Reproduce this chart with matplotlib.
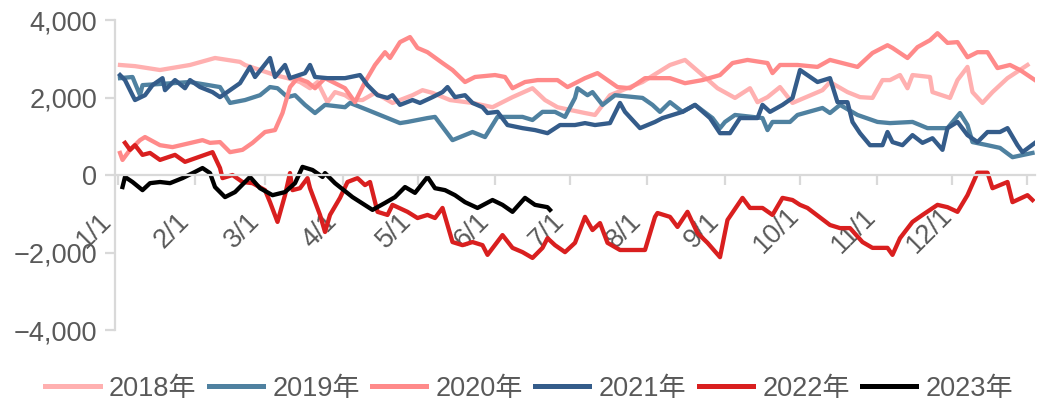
import matplotlib
matplotlib.use("Agg")
import matplotlib.pyplot as plt
import matplotlib.ticker as ticker
from matplotlib.transforms import ScaledTranslation

plt.rcParams["font.family"] = ["Liberation Sans", "Noto Sans CJK SC", "DejaVu Sans"]

# day of year / spread readings for each year
days_2018 = [1, 7, 17, 29, 39, 49, 51, 57, 63, 68, 73, 77, 80, 84, 87, 91, 94, 98, 103,
             110, 118, 122, 126, 133, 142, 150, 158, 166, 171, 176, 181, 187, 191, 197,
             210, 221, 227, 234, 240, 247, 253, 256, 260, 265, 270, 282, 285, 292, 297,
             302, 306, 309, 313, 316, 318, 325, 326, 333, 336, 340, 342, 346, 350, 356,
             364]
spread_2018 = [2840, 2810, 2710, 2840, 3020, 2920, 2840, 2710, 2580, 2500, 2400, 2240,
               2400, 1880, 2140, 2060, 1935, 1935, 2120, 1860, 2060, 2190, 2120, 1935,
               1860, 1750, 2010, 2240, 1935, 1750, 1680, 1600, 1550, 2060, 2400, 2840,
               2970, 2580, 2240, 1990, 2240, 1880, 2010, 2270, 1860, 2190, 2400, 2140,
               2010, 1990, 2450, 2450, 2580, 2240, 2580, 2530, 2140, 1990, 2450, 2790,
               2140, 1860, 2140, 2500, 2840]

days_2019 = [1, 6, 9, 10, 29, 41, 45, 51, 57, 61, 64, 68, 71, 75, 79, 83, 91, 93, 100,
             113, 116, 124, 127, 134, 142, 147, 152, 162, 166, 170, 175, 179, 183, 184,
             188, 190, 194, 199, 210, 214, 217, 221, 226, 231, 238, 241, 243, 247, 258,
             260, 262, 269, 272, 282, 285, 289, 296, 304, 309, 318, 324, 332, 337, 340,
             342, 348, 353, 358, 366]
spread_2019 = [2500, 2530, 2060, 2320, 2400, 2270, 1860, 1935, 2060, 2270, 2240, 2010,
               2060, 1810, 1600, 1810, 1750, 1860, 1680, 1340, 1370, 1470, 1500, 900,
               1110, 980, 1500, 1500, 1420, 1630, 1630, 1500, 1990, 2240, 2060, 2140,
               1810, 2060, 1990, 1810, 1630, 1880, 1630, 1810, 1470, 1210, 1370, 1550,
               1470, 1160, 1370, 1370, 1550, 1730, 1600, 1810, 1550, 1370, 1340, 1370,
               1210, 1210, 1600, 1290, 850, 770, 700, 460, 570]

days_2020 = [1, 2, 5, 9, 11, 17, 22, 34, 37, 41, 45, 50, 54, 59, 63, 66, 69, 72, 76, 79,
             83, 91, 95, 99, 103, 107, 109, 113, 117, 120, 124, 130, 134, 139, 143, 151,
             155, 158, 163, 168, 176, 180, 187, 192, 196, 200, 205, 211, 221, 227, 234,
             241, 246, 252, 260, 262, 265, 272, 280, 285, 296, 302, 308, 310, 316, 320,
             325, 328, 332, 336, 340, 344, 348, 352, 357, 361, 367]
spread_2020 = [570, 390, 650, 900, 980, 770, 720, 900, 830, 850, 590, 650, 830, 1110,
               1160, 1600, 2270, 2500, 2400, 2240, 2500, 2240, 1880, 2400, 2840, 3170,
               3020, 3430, 3560, 3280, 3170, 2890, 2710, 2400, 2530, 2580, 2530, 2240,
               2400, 2450, 2450, 2270, 2500, 2630, 2450, 2270, 2240, 2500, 2500, 2370,
               2450, 2580, 2890, 2970, 2890, 2630, 2840, 2840, 2790, 2970, 2790, 3150,
               3350, 3280, 3020, 3300, 3480, 3660, 3410, 3430, 3040, 3170, 3170, 2760,
               2840, 2710, 2450]

days_2021 = [1, 3, 6, 7, 11, 14, 18, 19, 23, 27, 29, 33, 38, 41, 49, 53, 55, 61, 63, 67,
             69, 75, 77, 79, 84, 91, 97, 100, 104, 108, 110, 113, 118, 121, 126, 130, 132,
             135, 139, 142, 146, 148, 152, 156, 162, 167, 172, 177, 183, 187, 191, 197,
             201, 203, 209, 215, 218, 226, 231, 237, 241, 245, 249, 256, 258, 261, 266,
             270, 273, 280, 285, 288, 292, 294, 297, 301, 306, 308, 310, 314, 318, 322,
             326, 330, 332, 336, 340, 344, 348, 353, 356, 360, 362, 367]
spread_2021 = [2580, 2450, 2060, 1935, 2060, 2320, 2500, 2190, 2450, 2240, 2450, 2270,
               2140, 2010, 2370, 2790, 2530, 3020, 2530, 2840, 2500, 2630, 2840, 2530,
               2500, 2500, 2580, 2320, 2060, 1990, 2060, 1810, 1935, 1860, 2010, 2140,
               2270, 2010, 2060, 1860, 1750, 1600, 1630, 1290, 1210, 1160, 1080, 1290,
               1290, 1340, 1290, 1340, 1860, 1630, 1210, 1370, 1470, 1630, 1810, 1470,
               1080, 1080, 1470, 1470, 1810, 1630, 1810, 1990, 2710, 2400, 2500, 1880,
               1880, 1370, 1080, 770, 770, 1110, 850, 770, 1030, 830, 950, 650, 1210,
               1370, 1030, 850, 1110, 1110, 1210, 770, 590, 830]

days_2022 = [3, 5, 7, 10, 13, 17, 23, 27, 38, 41, 42, 46, 50, 54, 59, 61, 64, 67, 69, 70,
             73, 76, 77, 81, 83, 85, 89, 92, 96, 99, 101, 104, 108, 110, 116, 120, 124,
             127, 130, 134, 138, 142, 146, 148, 154, 158, 162, 166, 170, 172, 175, 179,
             183, 187, 190, 193, 196, 201, 211, 215, 216, 221, 224, 228, 232, 236, 241,
             244, 250, 253, 258, 262, 266, 270, 273, 276, 285, 289, 293, 298, 302, 308,
             310, 313, 318, 322, 328, 332, 336, 340, 344, 348, 350, 356, 358, 364, 366]
spread_2022 = [830, 650, 770, 520, 570, 390, 520, 340, 590, 180, -80, 0, -180, -210,
               -390, -700, -1210, -520, 50, -390, -340, -80, -340, -1030, -1470, -1030,
               -590, -180, -80, -260, -180, -950, -1030, -770, -950, -1110, -1030, -1110,
               -850, -1730, -1810, -1730, -1810, -2060, -1550, -1880, -1990, -2140, -1880,
               -1630, -1810, -1990, -1750, -1080, -1420, -1240, -1750, -1935, -1935,
               -1080, -980, -1080, -1340, -950, -1500, -1750, -2120, -1160, -590, -850,
               -850, -1030, -590, -645, -770, -850, -1290, -1370, -1370, -1730, -1880,
               -1880, -2060, -1630, -1210, -1030, -770, -830, -950, -520, 60, 60, -340,
               -180, -700, -520, -645]

days_2023 = [2, 3, 6, 10, 13, 17, 21, 26, 31, 34, 37, 39, 43, 47, 53, 57, 62, 67, 71,
             74, 78, 82, 83, 87, 94, 102, 107, 111, 115, 119, 124, 127, 131, 135, 139,
             144, 150, 154, 158, 163, 167, 172, 173]
spread_2023 = [-310, -50, -180, -390, -210, -180, -210, -80, 80, 180, 50, -310, -570,
               -440, -50, -340, -520, -440, -210, 210, 130, -50, 50, -210, -570, -900,
               -720, -570, -310, -460, -50, -340, -390, -520, -700, -850, -645, -770,
               -950, -590, -770, -830, -900]

years = ["2018年", "2019年", "2020年", "2021年", "2022年", "2023年"]
colors = ["#ffb0b0", "#4f81a0", "#ff8a8a", "#345c8a", "#d91f1f", "#000000"]

month_days = [0, 31, 59, 90, 120, 151, 181, 212, 243, 273, 304, 334, 364]
month_labels = ["1/1", "2/1", "3/1", "4/1", "5/1", "6/1", "7/1", "8/1", "9/1",
                "10/1", "11/1", "12/1", ""]

fig = plt.figure(figsize=(10.38, 4.03), dpi=100)
ax = fig.add_axes([0.1108, 0.1811, 0.8863, 0.7692])

all_days = [days_2018, days_2019, days_2020, days_2021, days_2022, days_2023]
all_vals = [spread_2018, spread_2019, spread_2020, spread_2021, spread_2022, spread_2023]
for d, v, lab, col in zip(all_days, all_vals, years, colors):
    ax.plot(d, v, color=col, lw=3.1, label=lab, solid_joinstyle="round")

ax.set_xlim(-1, 367)
ax.set_ylim(-4000, 4000)

grey = "#d9d9d9"
ax.spines["top"].set_visible(False)
ax.spines["right"].set_visible(False)
ax.spines["bottom"].set_position(("data", 0))
for s in ["left", "bottom"]:
    ax.spines[s].set_color(grey)
    ax.spines[s].set_linewidth(1.6)

ax.set_yticks([-4000, -2000, 0, 2000, 4000])
ax.yaxis.set_major_formatter(ticker.StrMethodFormatter("{x:,.0f}"))
ax.set_xticks(month_days)
ax.set_xticklabels(month_labels, rotation=45, ha="center", va="center")

ax.tick_params(axis="y", length=7, width=1.6, color=grey, pad=6,
               labelsize=19.5, labelcolor="#595959")
ax.tick_params(axis="x", length=7, width=1.6, color=grey, pad=33,
               labelsize=19.5, labelcolor="#595959")

# month labels sit left of their tick, centred on a point below the axis
shift = ScaledTranslation(-0.23, 0, fig.dpi_scale_trans)
for lbl in ax.get_xticklabels():
    lbl.set_transform(lbl.get_transform() + shift)

fig.legend(loc="center", bbox_to_anchor=(0.51, 0.035), ncol=6, frameon=False,
           fontsize=19.5, handlelength=2.0, handletextpad=0.35, columnspacing=0.45,
           labelcolor="#595959")
for line in fig.legends[0].get_lines():
    line.set_linewidth(3.6)

fig.savefig("out.png", dpi=100)
